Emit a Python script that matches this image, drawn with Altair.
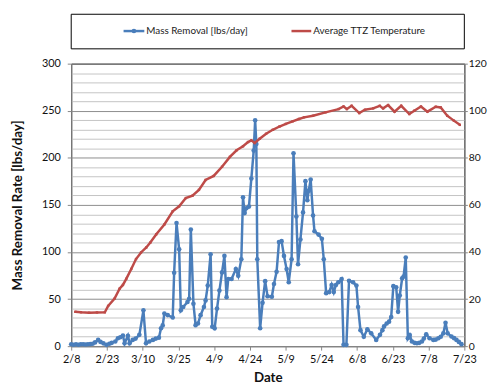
import altair as alt
import pandas as pd

# ---------------- data ----------------
start_date = "2009-02-08"

# days after 2/8 and mass removal rate [lbs/day]
mass_day = [0, 1, 2, 3, 4, 5, 6, 7, 8, 9, 10, 11.3, 12.3, 13.5, 14.8, 16, 17, 18.5, 19.6, 20.6,
            21.7, 22.4, 23.8, 24.5, 25.8, 27, 28.6, 30.3, 31.4, 32.8, 34.3, 35.5, 36.8, 37.7, 38.4,
            39.1, 40.5, 42.6, 43.2, 44.2, 45.3, 46, 47, 48.8, 49.5, 50.2, 51.3, 52.2, 53.2, 54.3,
            55.7, 56.4, 57.3, 58.5, 59.2, 60.2, 61.2, 62.2, 63.3, 64.3, 65.2, 65.9, 67.3, 69.1, 70.1,
            71.4, 72.1, 72.8, 73.5, 74.6, 75.6, 76.6, 77.2, 77.7, 78.1, 79.3, 80.3, 81.4, 82.4, 84.2,
            85.1, 86.2, 87.2, 88.3, 89.3, 90.4, 91.3, 92.5, 93.3, 94.5, 95.2, 96.2, 97.3, 98.3, 99.1,
            99.7, 100.5, 101.5, 102.1, 103.8, 105.2, 106, 107, 108.3, 109.3, 110.2, 111.1, 112.1,
            113.5, 114.3, 115.5, 116.6, 118.3, 119.7, 120.4, 121.4, 122.8, 124.3, 125.9, 128, 129.6,
            130.6, 131.3, 132.4, 133.4, 134.3, 135.2, 136.4, 137.2, 137.9, 138.9, 139.5, 140.4, 141.3,
            142.1, 143, 144.1, 145.1, 146.1, 147.2, 148, 149, 150.4, 152, 153, 154.1, 155.1, 156.2,
            157.1, 158, 159.6, 160.7, 161.7, 162.7, 163.8]
mass_val = [2, 1.5, 2, 1.5, 2, 2, 1.8, 2, 2.2, 2.5, 4, 6.6, 4.5, 3, 1.4, 2.5, 3.5, 5, 8.4, 9.5,
            11.2, 3, 11, 3, 6.6, 8, 12, 38, 3, 5, 6.6, 8, 9, 19, 22,
            34.6, 33, 30.4, 78, 130.8, 102.8, 38, 41.6, 46.9, 50.3, 123.8, 45, 22.3, 24, 32.9,
            41.6, 48.6, 64.3, 97.6, 20.6, 18.9, 39.9, 59, 78.3, 95.8, 52, 71.3, 71.3, 81.8, 74.8,
            92.3, 158, 141.3, 146.5, 148.2, 178, 207.7, 239.9, 214.7, 92.3, 19, 46, 69, 53, 52.4,
            66, 79, 110.5, 111.5, 95.8, 81.8, 67.9, 92.3, 204.9, 137.7, 87, 113.3, 142, 175.2, 155,
            165, 177, 138.8, 122, 118.5, 114, 92.3, 56.3, 57.4, 65, 57.4, 65, 67.8,
            71.3, 1.4, 1.4, 69.5, 67.8, 64.3, 41.6, 17, 10, 18, 13.6, 6.6, 12,
            17, 21, 24, 26, 31, 63.7, 62.6, 36.4, 53.8, 72, 74, 94.1, 8.4,
            11.9, 4.9, 3.5, 3.1, 3.5, 4.9, 8, 12.6, 8.4, 6.6, 7, 8.4, 10, 13.6,
            24.8, 13.6, 10.2, 8.5, 6.6, 4.5, 2.1]

# days after 2/8 and average TTZ temperature
temp_day = [1.7, 4.1, 7.5, 10.8, 14.1, 15.5, 18.2, 20.3, 21.7, 23.1, 25.2, 27.2, 29.3, 31.5, 33.2,
            35.7, 39.1, 42.6, 45.3, 48.1, 50.9, 53.6, 56.4, 59.8, 63.3, 66.6, 69.4, 72.1, 74.2, 75.6,
            77, 79.1, 81.8, 84.6, 87.4, 90.1, 92.9, 95.6, 97.7, 101.5, 106.7, 112.2, 114.3, 115.7,
            117.7, 120.9, 123.3, 126.7, 129.5, 130.9, 133, 135.7, 138.5, 141.9, 144, 146.8, 149.5,
            153, 155.1, 157.8, 160.6, 163.1]
temp_val = [14.6, 14.4, 14.2, 14.3, 14.4, 17.1, 20.2, 24.4, 26, 28.6, 32.8, 37, 39.8, 41.9, 44,
            47.5, 51.7, 57.3, 59.4, 62.9, 63.9, 66.4, 70.6, 72.3, 76.2, 80.4, 83.2, 84.9, 86.7, 87.4,
            86.3, 88.1, 90.2, 91.9, 93.3, 94.4, 95.5, 96.5, 97.2, 97.9, 99.3, 100.7, 101.8, 100.7,
            102.1, 99, 100.4, 101, 102.1, 101, 102.4, 99.6, 102.1, 98.6, 100, 101.8, 99.6,
            101.7, 101.4, 97.9, 95.8, 94]

x_tick_labels = ["2/8", "2/23", "3/10", "3/25", "4/9", "4/24", "5/9", "5/24",
                 "6/8", "6/23", "7/8", "7/23"]
series_names = ["Mass Removal [lbs/day]", "Average TTZ Temperature"]

# ---------------- tables ----------------
t0 = pd.Timestamp(start_date)
df_mass = pd.DataFrame({"date": t0 + pd.to_timedelta(mass_day, unit="D"), "mass": mass_val})
df_temp = pd.DataFrame({"date": t0 + pd.to_timedelta(temp_day, unit="D"), "temp": temp_val})


def dt(lbl):
    m, d = lbl.split("/")
    return alt.DateTime(year=2009, month=int(m), date=int(d))


tick_dates = [dt(l) for l in x_tick_labels]

BLUE = "#4a7ebb"
RED = "#be4b48"
FONT = "Lato"
W, H = 398, 286

xscale = alt.Scale(domain=[tick_dates[0], tick_dates[-1]], nice=False)


def make_xaxis():
    return alt.Axis(values=tick_dates, format="%-m/%-d", grid=False, tickSize=4,
                    tickColor="#868686", domainColor="#868686", labelFont=FONT,
                    labelFontSize=11, labelColor="#111", labelPadding=4, labelFlush=False,
                    labelOverlap=False, labelBound=False, labelSeparation=0,
                    title="Date", titleFont=FONT, titleFontSize=13.5,
                    titleFontWeight="bold", titleColor="#111", titlePadding=6)


left_axis = alt.Axis(
    values=list(range(0, 301, 10)),
    labelExpr="datum.value % 50 === 0 ? datum.label : ''",
    grid=True,
    gridColor={"condition": {"test": "datum.value % 50 === 0", "value": "#8c8c8c"},
               "value": "#c4c4c4"},
    tickOpacity={"condition": {"test": "datum.value % 50 === 0", "value": 1}, "value": 0},
    tickSize=4, tickColor="#868686", domainColor="#868686",
    labelFont=FONT, labelFontSize=11, labelColor="#111", labelPadding=7,
    title="Mass Removal Rate [lbs/day]", titleFont=FONT, titleFontSize=13.5,
    titleFontWeight="bold", titleColor="#111", titleX=-47)

right_axis = alt.Axis(orient="right", values=list(range(0, 121, 20)), grid=False,
                      tickSize=3, tickColor="#868686", domainColor="#868686",
                      labelFont=FONT, labelFontSize=10.5, labelColor="#111", labelPadding=1,
                      title=None)

mass = alt.Chart(df_mass).mark_line(
    color=BLUE, strokeWidth=2.5,
    point=alt.OverlayMarkDef(filled=True, size=22, color=BLUE)
).encode(
    x=alt.X("date:T", scale=xscale, axis=make_xaxis()),
    y=alt.Y("mass:Q", scale=alt.Scale(domain=[0, 300], nice=False), axis=left_axis),
)

temp = alt.Chart(df_temp).mark_line(
    color=RED, strokeWidth=2.5,
    point=alt.OverlayMarkDef(filled=True, size=6, color=RED, shape="square")
).encode(
    x=alt.X("date:T", scale=xscale, axis=make_xaxis()),
    y=alt.Y("temp:Q", scale=alt.Scale(domain=[0, 120], nice=False), axis=right_axis),
)

one = pd.DataFrame({"k": [0]})
leg_box = alt.Chart(one).mark_rect(fill="white", stroke="black", strokeWidth=1).encode(
    x=alt.value(0), x2=alt.value(W), y=alt.value(-50), y2=alt.value(-15))
leg_l1 = alt.Chart(one).mark_rule(color=BLUE, strokeWidth=2.5).encode(
    x=alt.value(53), x2=alt.value(74), y=alt.value(-33))
leg_p1 = alt.Chart(one).mark_point(filled=True, size=22, color=BLUE, opacity=1).encode(
    x=alt.value(63.5), y=alt.value(-33))
leg_t1 = alt.Chart(pd.DataFrame({"t": [series_names[0]]})).mark_text(
    align="left", baseline="middle", font=FONT, fontSize=10, color="#222").encode(
    text="t:N", x=alt.value(76), y=alt.value(-33))
leg_l2 = alt.Chart(one).mark_rule(color=RED, strokeWidth=2.5).encode(
    x=alt.value(223), x2=alt.value(243), y=alt.value(-33))
leg_t2 = alt.Chart(pd.DataFrame({"t": [series_names[1]]})).mark_text(
    align="left", baseline="middle", font=FONT, fontSize=10, color="#222").encode(
    text="t:N", x=alt.value(245), y=alt.value(-33))

chart = alt.layer(
    mass, temp, leg_box, leg_l1, leg_p1, leg_t1, leg_l2, leg_t2
).resolve_scale(y="independent").properties(
    width=W, height=H,
    autosize=alt.AutoSizeParams(type="none"),
    padding={"left": 64, "top": 54, "right": 28, "bottom": 38},
    background="white",
).configure_view(stroke="#000000", strokeWidth=1)

chart.save("out.html", embed_options={"renderer": "svg", "actions": False})
